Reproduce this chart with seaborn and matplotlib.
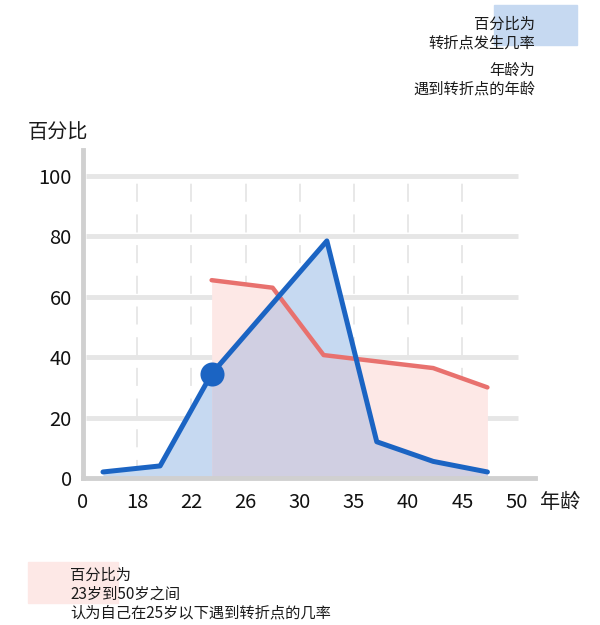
import numpy as np
import pandas as pd
import matplotlib
matplotlib.use("Agg")
import matplotlib.pyplot as plt
from matplotlib.patches import Rectangle
import seaborn as sns

# axis tick ages (the axis is not linear in age, ticks are evenly spaced)
age_ticks = [0, 18, 22, 26, 30, 35, 40, 45, 50]
pct_ticks = [0, 20, 40, 60, 80, 100]

# blue: chance of a turning point at each age
blue_age = [6.7, 19.7, 23.5, 32.5, 37.1, 42.3, 47.3]
blue_pct = [2, 4, 34.5, 78.5, 12, 5.5, 2]

# red: people 23-50 who think they met their turning point before 25
red_age = [23.5, 28, 32.2, 42.3, 47.3]
red_pct = [65.5, 63, 40.7, 36.4, 30]

# highlighted point
dot_age = [23.5]
dot_pct = [34.5]

BLUE = "#1b64c3"
RED = "#e8716e"
BLUE_FILL = "#c6d9f1"
RED_FILL = "#fde8e6"
OVERLAP = "#d0cfe2"
GRID = "#e6e6e6"


def to_pos(ages):
    # map ages onto the evenly spaced tick slots
    return np.interp(ages, age_ticks, np.arange(len(age_ticks)))


sns.set_theme(style="white")
plt.rcParams["font.family"] = ["Noto Sans CJK SC", "DejaVu Sans"]

blue = pd.DataFrame({"pos": to_pos(blue_age), "pct": blue_pct})
red = pd.DataFrame({"pos": to_pos(red_age), "pct": red_pct})
dot = pd.DataFrame({"pos": to_pos(dot_age), "pct": dot_pct})

fig = plt.figure(figsize=(6, 6.25), dpi=100)
ax = fig.add_axes([0.138, 0.2352, 0.753, 0.5248])

# grid
ax.hlines(pct_ticks[1:], 0.05, 8.03, color=GRID, lw=3.5, zorder=0)
ax.vlines(range(1, 8), 0, 100, color="#e6e6e6", lw=1.3,
          linestyles=(0, (10, 7)), zorder=0.5)

# fills
ax.fill_between(blue["pos"], 0, blue["pct"], color=BLUE_FILL, lw=0, zorder=1)
ax.fill_between(red["pos"], 0, red["pct"], color=RED_FILL, lw=0, zorder=1.1)
grid_x = np.linspace(red["pos"].min(), red["pos"].max(), 400)
both = np.minimum(np.interp(grid_x, blue["pos"], blue["pct"]),
                  np.interp(grid_x, red["pos"], red["pct"]))
ax.fill_between(grid_x, 0, both, color=OVERLAP, lw=0, zorder=1.2)

# lines
sns.lineplot(data=red, x="pos", y="pct", ax=ax, color=RED, lw=3.2, zorder=3)
sns.lineplot(data=blue, x="pos", y="pct", ax=ax, color=BLUE, lw=3.6, zorder=4)
sns.scatterplot(data=dot, x="pos", y="pct", ax=ax, color=BLUE, s=300,
                linewidth=0, zorder=5)

ax.set_xlim(0, 8.33)
ax.set_ylim(0, 108.6)
ax.set_xticks(range(len(age_ticks)))
ax.set_xticklabels([str(a) for a in age_ticks])
ax.set_yticks(pct_ticks)
ax.set_yticklabels([str(p) for p in pct_ticks])
ax.tick_params(axis="x", length=0, pad=10, labelsize=14.5, colors="#111111")
ax.tick_params(axis="y", length=0, pad=8, labelsize=14.5, colors="#111111")
ax.set_xlabel("")
ax.set_ylabel("")
for side in ["top", "right"]:
    ax.spines[side].set_visible(False)
for side in ["left", "bottom"]:
    ax.spines[side].set_color("#d0d0d0")
    ax.spines[side].set_linewidth(3.5)

W, H = 600, 625


def ft(x, y, s, **kw):
    fig.text(x / W, 1 - y / H, s, va="center", color="#1a1a1a", **kw)


# axis titles
ft(28, 132, "百分比", ha="left", fontsize=14.5)
ft(540, 502, "年龄", ha="left", fontsize=14.5)

# top-right legend
fig.patches.append(Rectangle((494 / W, 1 - 45 / H), 83 / W, 40 / H,
                             transform=fig.transFigure, color=BLUE_FILL,
                             zorder=0))
ft(535, 24, "百分比为", ha="right", fontsize=11)
ft(535, 43, "转折点发生几率", ha="right", fontsize=11)
ft(535, 70, "年龄为", ha="right", fontsize=11)
ft(535, 89, "遇到转折点的年龄", ha="right", fontsize=11)

# bottom legend
fig.patches.append(Rectangle((28 / W, 1 - 603 / H), 90 / W, 41 / H,
                             transform=fig.transFigure, color=RED_FILL,
                             zorder=0))
ft(70, 575, "百分比为", ha="left", fontsize=11)
ft(70, 594, "23岁到50岁之间", ha="left", fontsize=11)
ft(70, 613, "认为自己在25岁以下遇到转折点的几率", ha="left", fontsize=11)

fig.savefig("out.png", dpi=100)
